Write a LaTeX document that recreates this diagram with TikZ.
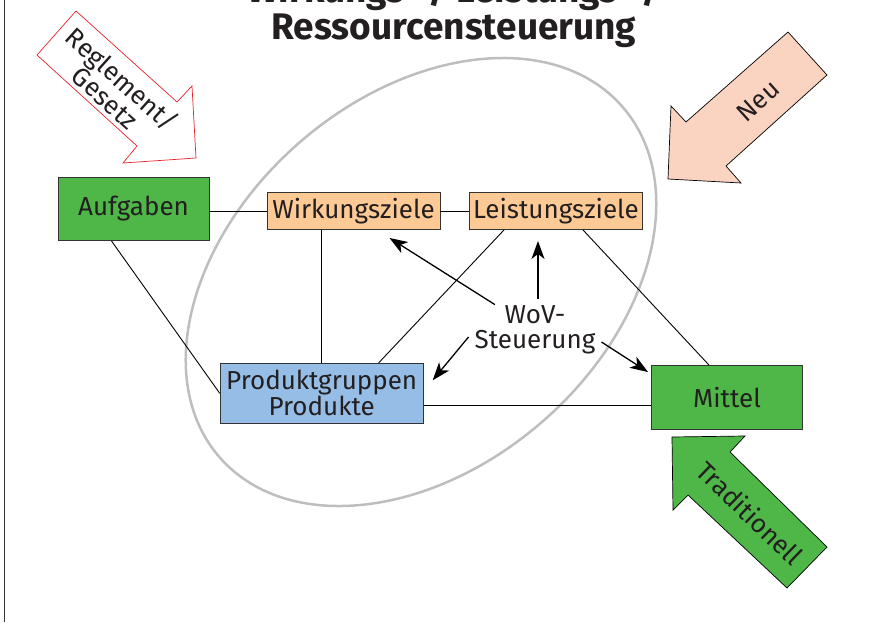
\documentclass[tikz,border=0pt]{standalone}
\usepackage{fontspec}
\setmainfont{Fira Sans}
\usetikzlibrary{arrows.meta}
\definecolor{gruen}{RGB}{78,183,72}
\definecolor{zielorange}{RGB}{253,202,149}
\definecolor{prodblau}{RGB}{150,189,230}
\definecolor{lachs}{RGB}{250,211,193}
\definecolor{regelrot}{RGB}{232,35,42}
\definecolor{ellgrau}{RGB}{189,190,192}
\definecolor{schrift}{RGB}{35,31,32}
\tikzset{
  kasten/.style={draw=black!80, line width=0.9pt, inner sep=0pt, align=center},
  linie/.style={line width=0.9pt},
  steuer/.style={line width=1.3pt, -{Stealth[length=18pt,width=13pt,inset=5pt]}},
  blockpfeil/.style={line width=0.7pt, line join=miter},
}

\begin{document}
\begin{tikzpicture}[x=1pt,y=-1pt,font=\fontsize{26}{25}\selectfont,text=schrift]
        \useasboundingbox (0,0) rectangle (892,622);
        \draw[line width=1pt,black!80] (4.5,0) -- (4.5,622);
        \node[font=\fontsize{37}{37}\selectfont\bfseries, align=center, anchor=south, inner sep=0pt] (titel) at (454,48) {Wirkungs- / Leistungs- /\\Ressourcensteuerung};
        \draw[ellgrau, line width=2.5pt, rotate around={41:(421,282)}] (421,282) ellipse [x radius=267pt, y radius=185pt];
        \begin{scope}
          \draw[blockpfeil, regelrot, fill=white] (76,11) -- (177,102) -- (192,86) -- (196,158) -- (123,163) -- (137,146) -- (37,55) -- cycle;
          \node[rotate=-42, align=center] (regl) at (114,88) {Reglement/\\Gesetz};
          \draw[blockpfeil, fill=lachs] (788,32) -- (827,75) -- (726,166) -- (741,183) -- (668,179) -- (671,106) -- (686,122) -- cycle;
          \node[rotate=42] (neu) at (758,101) {Neu};
          \draw[blockpfeil, fill=gruen] (672,437) -- (745,436) -- (730,452) -- (827,547) -- (787,588) -- (688,495) -- (673,510) -- cycle;
          \node[rotate=-44] (trad) at (750,513) {Traditionell};
        \end{scope}
        \node[kasten, fill=gruen, minimum width=151pt, minimum height=63pt] (aufg) at (133.5,209) {Aufgaben};
        \node[kasten, fill=zielorange, minimum width=173pt, minimum height=37pt] (wirk) at (353.5,211) {Wirkungsziele};
        \node[kasten, fill=zielorange, minimum width=173pt, minimum height=37pt] (leist) at (556,211) {Leistungsziele};
        \node[kasten, fill=prodblau, minimum width=203pt, minimum height=60pt] (prod) at (321.7,393.3) {Produktgruppen\\Produkte};
        \node[kasten, fill=gruen, minimum width=151pt, minimum height=64pt] (mittel) at (727,397.5) {Mittel};
        \node[align=center, inner sep=1pt] (wov) at (535,330) {WoV-\\Steuerung};
        \draw[linie] (wirk.west) -- (wirk.west -| aufg.east);
        \draw[linie] (wirk) -- (leist);
        \draw[linie] ([xshift=-22pt]aufg.south) -- (prod.west);
        \draw[linie] (prod.north) -- (prod.north |- wirk.south);
        \draw[linie] ([xshift=-52pt]leist.south) -- ([xshift=57pt]prod.north);
        \draw[linie] ([xshift=27pt]leist.south) -- ([xshift=-18pt]mittel.north);
        \draw[linie] ([yshift=-12pt]prod.east) -- ([yshift=-12pt]prod.east -| mittel.west);
        \draw[steuer] (wov) -- ([xshift=36pt,yshift=-8pt]wirk.south);
        \draw[steuer] ([xshift=3pt,yshift=6pt]wov.north) -- ([xshift=-18pt,yshift=-11pt]leist.south);
        \draw[steuer] ([xshift=-5pt,yshift=-7pt]wov.west) -- ([xshift=9pt,yshift=13pt]prod.east);
        \draw[steuer] ([xshift=5pt,yshift=-12pt]wov.east) -- ([xshift=-3pt,yshift=-7pt]mittel.north west);
      \end{tikzpicture}
\end{document}
